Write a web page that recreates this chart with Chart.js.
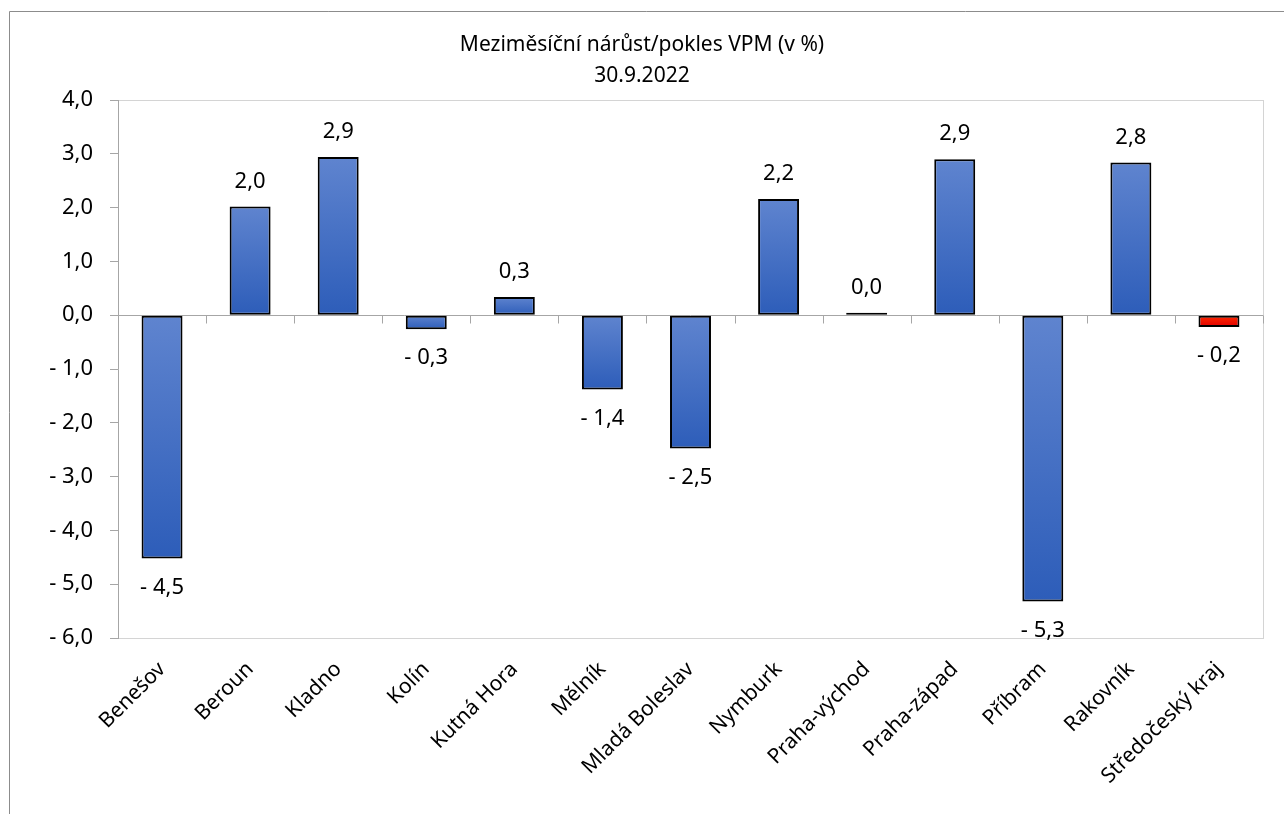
<!DOCTYPE html>
<html>
<head>
<meta charset="utf-8">
<script src="https://cdn.jsdelivr.net/npm/chart.js@4.4.1/dist/chart.umd.min.js"></script>
<style>
html,body{margin:0;padding:0;background:#fff;}
#wrap{width:1284px;height:814px;position:relative;}
</style>
</head>
<body>
<div id="wrap"><canvas id="c" width="1284" height="814"></canvas></div>
<script>
const categories = ["Benešov","Beroun","Kladno","Kolín","Kutná Hora","Mělník","Mladá Boleslav","Nymburk","Praha-východ","Praha-západ","Příbram","Rakovník","Středočeský kraj"];
const values = [-4.52, 2.02, 2.94, -0.26, 0.34, -1.38, -2.48, 2.16, 0.045, 2.9, -5.32, 2.84, -0.22];
const highlighted = [false,false,false,false,false,false,false,false,false,false,false,false,true];
const titleLines = ["Meziměsíční nárůst/pokles VPM (v %)", "30.9.2022"];
const yMin = -6, yMax = 4, yStep = 1;

const FONT = "'Noto Sans', 'Open Sans', sans-serif";
function fmt(v){
  const r = Math.round(Math.abs(v)*10)/10;
  const s = r.toFixed(1).replace('.', ',');
  return (v < -0.05 ? '- ' : '') + s;
}

function barFill(ctx){
  const chart = ctx.chart;
  const ys = chart.scales.y;
  const i = ctx.dataIndex;
  if (!ys || i === undefined) return '#4472c4';
  const v = values[i];
  const p1 = ys.getPixelForValue(v), p0 = ys.getPixelForValue(0);
  const top = Math.min(p1,p0), bot = Math.max(p1,p0);
  if (!isFinite(top) || !isFinite(bot) || bot - top < 0.5) return highlighted[i] ? '#ff0000' : '#4472c4';
  const g = chart.ctx.createLinearGradient(0, top, 0, bot);
  if (highlighted[i]) { g.addColorStop(0,'#ff2a00'); g.addColorStop(1,'#e00000'); }
  else { g.addColorStop(0,'#5f84cf'); g.addColorStop(1,'#2d5db9'); }
  return g;
}

const framePlugin = {
  id:'frame',
  beforeDraw(chart){
    const c = chart.ctx, a = chart.chartArea;
    c.save();
    c.fillStyle='#fff'; c.fillRect(0,0,chart.width,chart.height);
    c.strokeStyle='#8c8c8c'; c.lineWidth=1;
    c.beginPath(); c.moveTo(9.5, chart.height); c.lineTo(9.5, 11.5); c.lineTo(chart.width, 11.5); c.stroke();
    c.strokeStyle='#d4d4d4';
    c.strokeRect(Math.round(a.left)+0.5, Math.round(a.top)+0.5, Math.round(a.right-a.left), Math.round(a.bottom-a.top));
    c.fillStyle='#000'; c.font='21px '+FONT; c.textAlign='center'; c.textBaseline='middle';
    c.fillText(titleLines[0], chart.width/2, 45);
    c.fillText(titleLines[1], chart.width/2, 76);
    c.restore();
  },
  beforeDatasetsDraw(chart){
    const c = chart.ctx, a = chart.chartArea, ys = chart.scales.y;
    const y0 = Math.round(ys.getPixelForValue(0))+0.5;
    c.save();
    c.strokeStyle='#a6a6a6'; c.lineWidth=1;
    c.beginPath(); c.moveTo(a.left, y0); c.lineTo(a.right, y0); c.stroke();
    const n = categories.length;
    for (let i=0;i<=n;i++){
      const x = Math.round(a.left + (a.right-a.left)*i/n)+0.5;
      c.beginPath(); c.moveTo(x, y0); c.lineTo(x, y0+8); c.stroke();
    }
    c.restore();
  },
  afterDatasetsDraw(chart){
    const c = chart.ctx, meta = chart.getDatasetMeta(0), ys = chart.scales.y;
    const y0 = ys.getPixelForValue(0);
    c.save();
    c.fillStyle='#000'; c.font='22px '+FONT; c.textAlign='center'; c.textBaseline='middle';
    meta.data.forEach((el,i)=>{
      const v = values[i];
      const py = ys.getPixelForValue(v);
      let ty;
      if (v >= 0) ty = Math.min(py, y0) - 25;
      else ty = Math.max(py, y0) + 29;
      c.fillText(fmt(v), el.x, ty);
    });
    c.restore();
  }
};

new Chart(document.getElementById('c'), {
  type:'bar',
  data:{
    labels: categories,
    datasets:[{
      data: values,
      backgroundColor: barFill,
      borderColor:'#000000',
      borderWidth:2,
      borderSkipped:false,
      barPercentage:0.465,
      categoryPercentage:1.0
    }]
  },
  options:{
    responsive:false,
    animation:false,
    devicePixelRatio:1,
    layout:{padding:{top:100,right:21,left:0,bottom:0}},
    plugins:{legend:{display:false}, tooltip:{enabled:false}, title:{display:false}},
    scales:{
      y:{
        min:yMin, max:yMax,
        afterFit(s){ s.width = 118; },
        ticks:{stepSize:yStep, color:'#000', font:{family:FONT, size:22}, padding:17,
          callback:(v)=>fmt(v)},
        grid:{drawOnChartArea:false, drawTicks:true, tickLength:8, color:'#a6a6a6'},
        border:{display:true, color:'#a6a6a6'}
      },
      x:{
        afterFit(s){ s.height = 176; },
        ticks:{color:'#000', font:{family:FONT, size:21}, maxRotation:45, minRotation:45, autoSkip:false, padding:11},
        grid:{display:false},
        border:{display:false}
      }
    }
  },
  plugins:[framePlugin]
});
</script>
</body>
</html>
